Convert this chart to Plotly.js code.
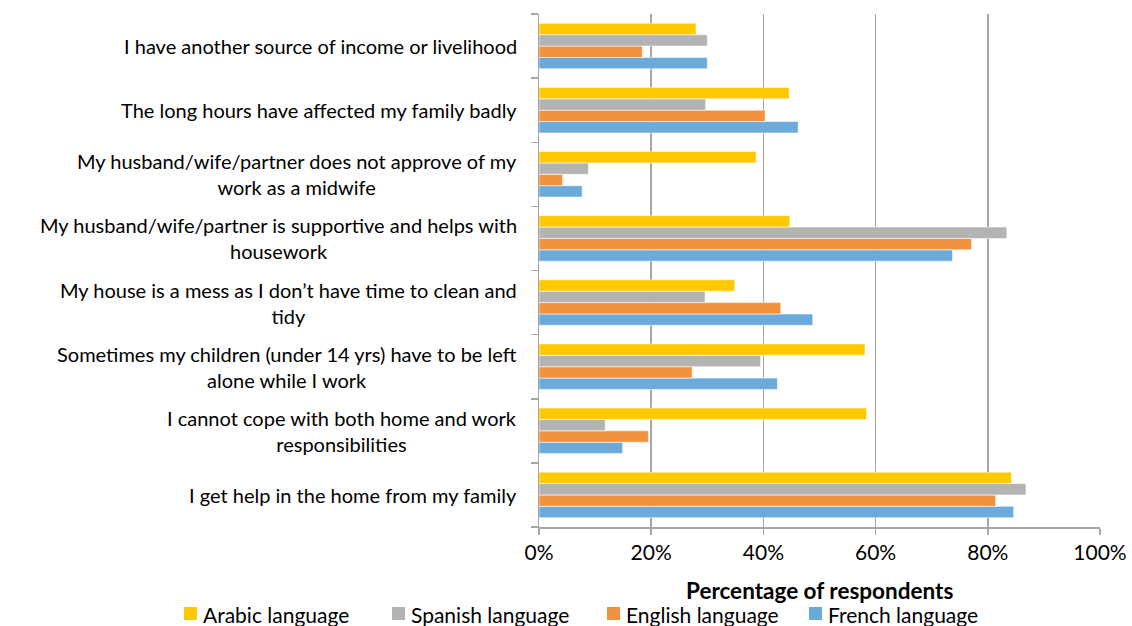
<!DOCTYPE html>
<html><head><meta charset="utf-8">
<script src="https://cdn.plot.ly/plotly-3.0.1.min.js"></script>
<style>html,body{margin:0;padding:0;background:#fff}#chart{width:1132px;height:626px}</style>
</head><body><div id="chart"></div>
<script>
// categories listed bottom-to-top (plotly draws first category at bottom)
const categories = [
  "I get help in the home from my family",
  "I cannot cope with both home and work<br>responsibilities",
  "Sometimes my children (under 14 yrs) have to be left<br>alone while I work",
  "My house is a mess as I don\u2019t have time to clean and<br>tidy",
  "My husband/wife/partner is supportive and helps with<br>housework",
  "My husband/wife/partner does not approve of my<br>work as a midwife",
  "The long hours have affected my family badly",
  "I have another source of income or livelihood"
];
const arabic  = [84.2, 58.4, 58.1, 34.9, 44.7, 38.7, 44.6, 28.0];
const spanish = [86.8, 11.8, 39.5, 29.6, 83.4,  8.8, 29.7, 30.0];
const english = [81.4, 19.5, 27.3, 43.1, 77.1,  4.2, 40.3, 18.4];
const french  = [84.6, 14.9, 42.5, 48.8, 73.7,  7.7, 46.2, 30.0];
const seriesNames = ["Arabic language", "Spanish language", "English language", "French language"];
const xTicks = [0, 20, 40, 60, 80, 100];
const xTickText = ["0%", "20%", "40%", "60%", "80%", "100%"];

const colors = {"Arabic language":"#FFC900","Spanish language":"#B3B3B3","English language":"#F2923F","French language":"#6AABDC"};
const FONT = "Lato, 'Open Sans', sans-serif";
const ML = 539, MR = 32, MT = 14, MB = 99, W = 1132, H = 626;
const PW = W - ML - MR, PH = H - MT - MB;
const px2paper = p => (p - ML) / PW;
const py2paper = p => (H - MB - p) / PH;

function tr(name, vals){
  return {type:'bar', orientation:'h', name:name, y:categories, x:vals,
    marker:{color:colors[name], line:{color:'rgba(255,255,255,0.55)', width:1}},
    hoverinfo:'x+name', showlegend:false};
}
const data = [
  tr("French language", french),
  tr("English language", english),
  tr("Spanish language", spanish),
  tr("Arabic language", arabic)
];

const annotations = categories.map(c => ({
  xref:'paper', yref:'y', x:0, y:c, xanchor:'right', yanchor:'middle',
  xshift:-20, text:c, align:'center', showarrow:false,
  font:{family:FONT, size:20, color:'#000'}
}));
annotations.push({xref:'paper', yref:'paper', x:0.5, y:py2paper(590), yanchor:'middle',
  text:"<b>Percentage of respondents</b>", showarrow:false,
  font:{family:FONT, size:22.5, color:'#000'}});

const shapes = [];
const legendPx = [184, 392, 607, 809];
seriesNames.forEach((n, i) => {
  shapes.push({type:'rect', xref:'paper', yref:'paper',
    x0:px2paper(legendPx[i]), x1:px2paper(legendPx[i]+13),
    y0:py2paper(620), y1:py2paper(607),
    fillcolor:colors[n], line:{width:0}});
  annotations.push({xref:'paper', yref:'paper', x:px2paper(legendPx[i]+17), y:py2paper(614.5),
    xanchor:'left', yanchor:'middle', text:n, showarrow:false,
    font:{family:FONT, size:21, color:'#000'}});
});

const layout = {
  width:W, height:H,
  margin:{l:ML, r:MR, t:MT, b:MB},
  paper_bgcolor:'#fff', plot_bgcolor:'#fff',
  barmode:'group', bargap:0.29, bargroupgap:0.0,
  font:{family:FONT, color:'#000', size:17},
  xaxis:{range:[0,100], tickvals:xTicks, ticktext:xTickText,
    showgrid:true, gridcolor:'#A6A6A6', gridwidth:1.5,
    showline:true, linecolor:'#A6A6A6', linewidth:1.5,
    ticks:'outside', ticklen:6, tickcolor:'#A6A6A6', tickwidth:1.5,
    tickfont:{size:21, family:FONT}, zeroline:false, automargin:false},
  yaxis:{type:'category', showline:true, linecolor:'#A6A6A6', linewidth:1.5,
    ticks:'outside', tickson:'boundaries', ticklen:7, tickcolor:'#A6A6A6', tickwidth:1.5,
    showticklabels:false, showgrid:false, automargin:false},
  showlegend:false,
  annotations:annotations,
  shapes:shapes
};
Plotly.newPlot('chart', data, layout, {displayModeBar:false, staticPlot:true});
</script></body></html>
